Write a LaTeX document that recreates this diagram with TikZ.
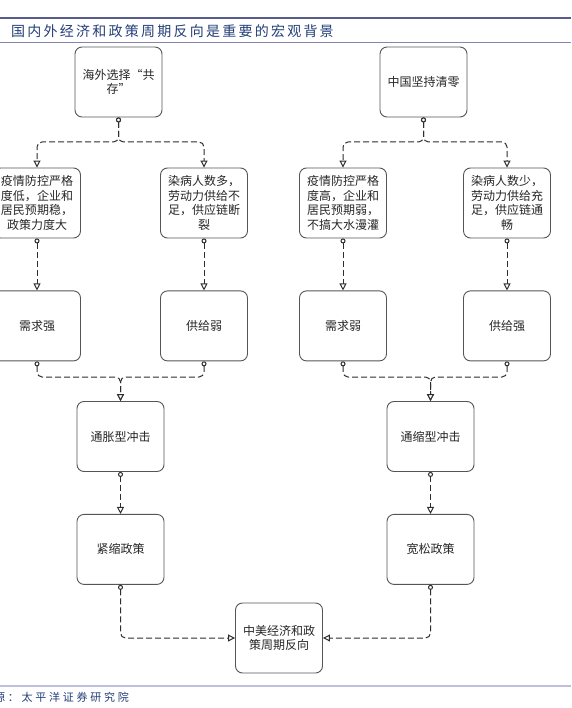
\documentclass[tikz,border=0pt]{standalone}
\usepackage{fontspec}
\newfontfamily\cjk{Noto Sans CJK SC}
\newfontfamily\cjkhead[LetterSpace=16]{Noto Sans CJK SC}
\newfontfamily\cjkfoot[LetterSpace=25]{Noto Sans CJK SC}
\usetikzlibrary{arrows.meta, positioning, calc}
\definecolor{rulebar}{RGB}{88,92,140}
\definecolor{rulethin}{RGB}{130,134,180}
\definecolor{rulefoot}{RGB}{190,192,218}
\definecolor{headblue}{RGB}{35,62,120}
\definecolor{boxline}{RGB}{85,85,85}
\definecolor{linkgray}{RGB}{45,45,45}

\begin{document}
\begin{tikzpicture}[
    x=1pt, y=-1pt,
    node distance=52pt and 2cm,
    base/.style={draw=boxline, line width=0.9pt, align=center, minimum height=70pt, minimum width=87pt, inner sep=2pt, text=black!85, font=\cjk\fontsize{12}{14.5}\selectfont},
    process/.style={base, rectangle, rounded corners=7pt},
    link/.style={draw=linkgray, line width=1pt, dash pattern=on 6pt off 3pt, rounded corners=5pt,
        {Circle[open, length=5pt, width=5pt, fill=white]}-{Triangle[open, length=7pt, width=7pt, fill=white]}},
    caption/.style={anchor=west, inner sep=0pt, text=headblue}
    ]
    \useasboundingbox (0,0) rectangle (571,708);

    % --- Cabecera ---
    \draw[rulebar, line width=2pt] (0,18) -- (571,18);
    \node (title) [caption, font=\cjkhead\fontsize{14}{16}\selectfont] at (11,31) {国内外经济和政策周期反向是重要的宏观背景};
    \draw[rulethin, line width=0.8pt] (0,42) -- (571,42);

    % --- Fila superior ---
    \node (overseas) [process] at (118.5,82) {海外选择“共\\存”};
    \node (china) [process] at (423.5,82) {中国坚持清零};

    % --- Columnas: condiciones ---
    \node (uscontrol) [process] at (37,203) {疫情防控严格\\度低，企业和\\居民预期稳，\\政策力度大};
    \node (uscases) [process] at (204,203) {染病人数多，\\劳动力供给不\\足，供应链断\\裂};
    \node (cncontrol) [process] at (343,203) {疫情防控严格\\度高，企业和\\居民预期弱，\\不搞大水漫灌};
    \node (cncases) [process] at (507,203) {染病人数少，\\劳动力供给充\\足，供应链通\\畅};

    \node (usdemand) [process, below=of uscontrol] {需求强};
    \node (ussupply) [process, below=of uscases] {供给弱};
    \node (cndemand) [process, below=of cncontrol] {需求弱};
    \node (cnsupply) [process, below=of cncases] {供给强};

    % --- Choques y politicas ---
    \node (inflation) [process] at (120.5,436.5) {通胀型冲击};
    \node (deflation) [process] at (430.5,436.5) {通缩型冲击};
    \node (tighten) [process, below=42pt of inflation] {紧缩政策};
    \node (easing) [process, below=42pt of deflation] {宽松政策};

    \node (reverse) [process] at (279,638) {中美经济和政\\策周期反向};

    % --- Conexiones ---
    \coordinate (splitY) at (0,142);
    \coordinate (mergeY) at (0,377);

    \draw[link] (overseas.south) -- (overseas.south |- splitY) -| (uscontrol.north);
    \draw[link] (overseas.south) -- (overseas.south |- splitY) -| (uscases.north);
    \draw[link] (china.south) -- (china.south |- splitY) -| (cncontrol.north);
    \draw[link] (china.south) -- (china.south |- splitY) -| (cncases.north);

    \draw[link] (uscontrol) -- (usdemand);
    \draw[link] (uscases) -- (ussupply);
    \draw[link] (cncontrol) -- (cndemand);
    \draw[link] (cncases) -- (cnsupply);

    \draw[link] (usdemand.south) -- (usdemand.south |- mergeY) -| (inflation.north);
    \draw[link] (ussupply.south) -- (ussupply.south |- mergeY) -| (inflation.north);
    \draw[link] (cndemand.south) -- (cndemand.south |- mergeY) -| (deflation.north);
    \draw[link] (cnsupply.south) -- (cnsupply.south |- mergeY) -| (deflation.north);

    \draw[link] (inflation) -- (tighten);
    \draw[link] (deflation) -- (easing);

    \draw[link] (tighten.south) |- (reverse.west);
    \draw[link] (easing.south) |- (reverse.east);

    % --- Fuente ---
    \draw[rulefoot, line width=1.5pt] (0,686) -- (571,686);
    \node (source) [caption, font=\cjkfoot\fontsize{11}{13}\selectfont] at (-6,697) {源：太平洋证券研究院};

\end{tikzpicture}
\end{document}
